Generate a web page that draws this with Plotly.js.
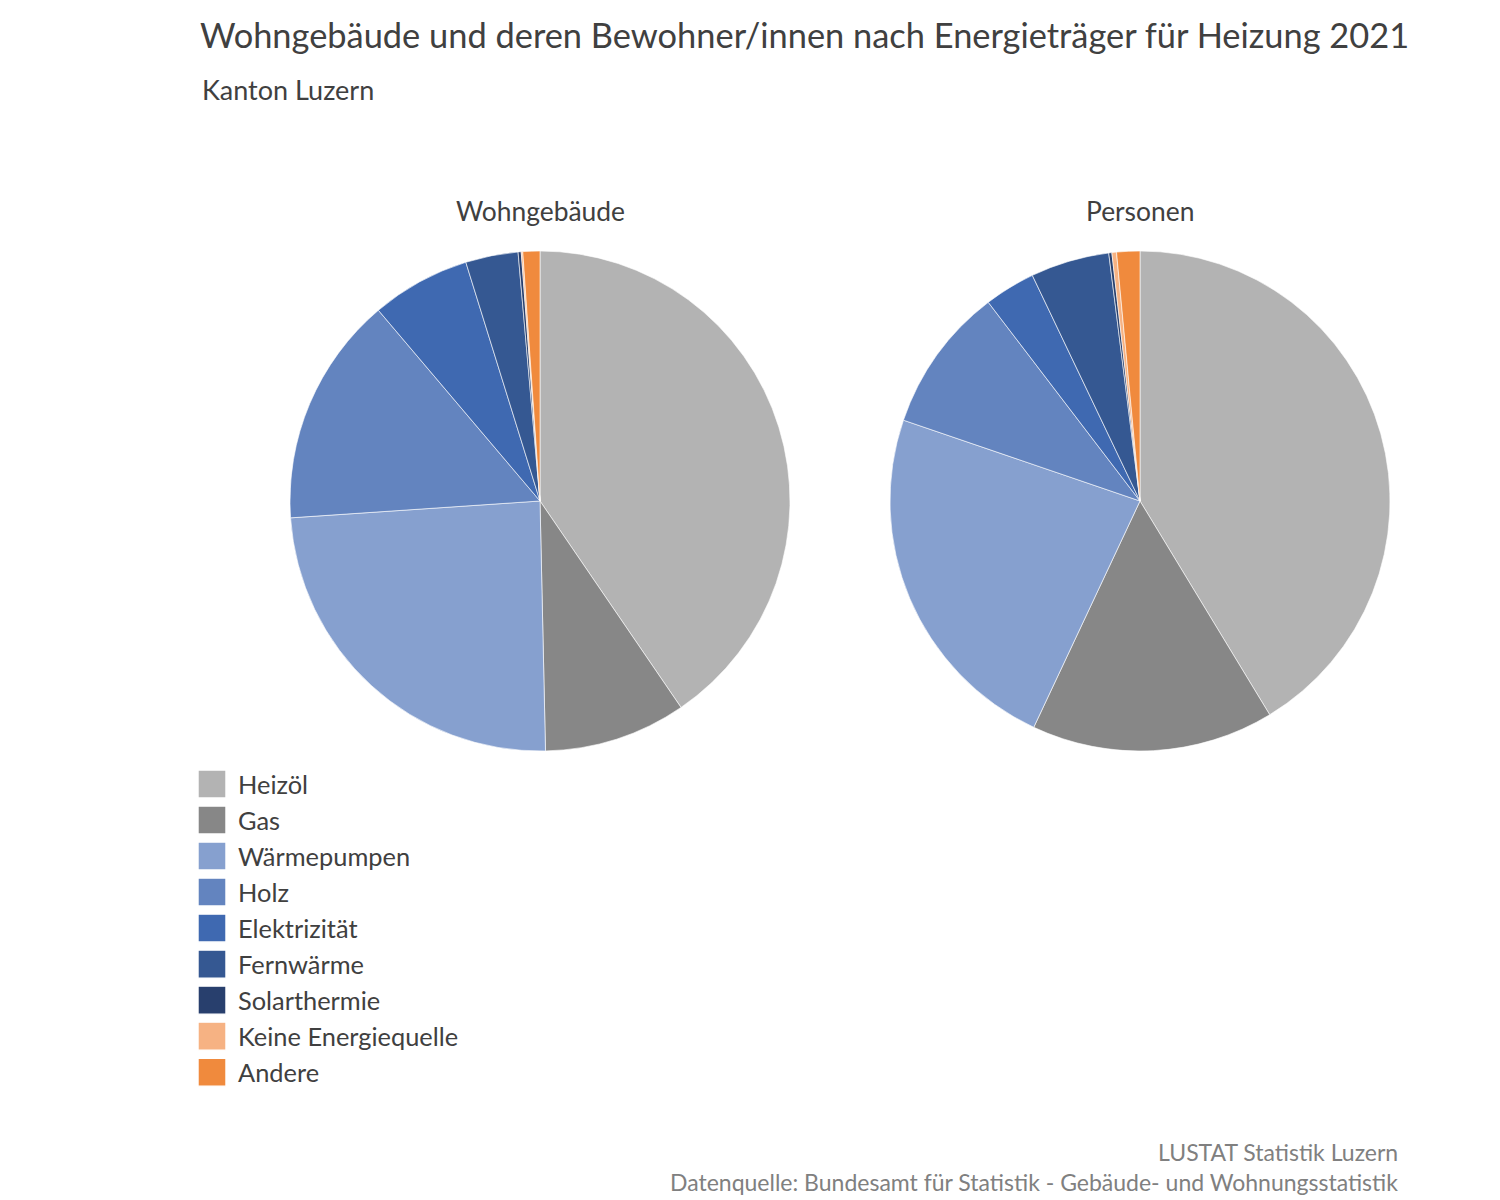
<!DOCTYPE html>
<html>
<head>
<meta charset="utf-8">
<script src="https://cdn.plot.ly/plotly-3.0.1.min.js"></script>
<style>
  body { margin: 0; background: #fff; }
  #chart { width: 1500px; height: 1200px; }
</style>
</head>
<body>
<div id="chart"></div>
<script>
// Anteile in Prozent
const categories = ['Heizöl', 'Gas', 'Wärmepumpen', 'Holz', 'Elektrizität', 'Fernwärme', 'Solarthermie', 'Keine Energiequelle', 'Andere'];
const wohngebaeude = [40.5, 9.2, 24.3, 14.9, 6.4, 3.4, 0.2, 0.1, 1.1];
const personen = [41.4, 15.7, 23.3, 9.4, 3.3, 5.1, 0.2, 0.3, 1.5];
const colors = ['#b3b3b3', '#878787', '#86a0cf', '#6384bf', '#3f69b1', '#355892', '#283f6d', '#f6b283', '#f08a3d'];
const pieTitles = ['Wohngebäude', 'Personen'];

const font = 'Lato, "Open Sans", sans-serif';
const pieY = [0.37417, 0.79083];
const pieX = [[0.19333, 0.52667], [0.59333, 0.92667]];

function pieTrace(values, xdom) {
    return {
        type: 'pie',
        labels: categories,
        values: values,
        sort: false,
        direction: 'clockwise',
        rotation: 0,
        textinfo: 'none',
        hoverinfo: 'label+percent',
        marker: { colors: colors, line: { color: '#ffffff', width: 0.6 } },
        domain: { x: xdom, y: pieY },
    };
}

const data = [
    pieTrace(wohngebaeude, pieX[0]),
    pieTrace(personen, pieX[1]),
];

// Titel über den Kuchen
const pieTitleAnn = pieTitles.map((t, i) => ({
    text: t, xref: 'paper', yref: 'paper',
    x: (pieX[i][0] + pieX[i][1]) / 2, y: pieY[1] + 0.0335,
    xanchor: 'center', yanchor: 'middle',
    showarrow: false, font: { size: 26.4, color: '#404040' },
}));

const layout = {
    width: 1500,
    height: 1200,
    margin: { t: 0, l: 0, r: 0, b: 0 },
    paper_bgcolor: '#ffffff',
    font: { family: font, color: '#404040' },
    title: {
        text: 'Wohngebäude und deren Bewohner/innen nach Energieträger für Heizung 2021',
        font: { size: 34.4, color: '#404040' },
        x: 200 / 1500,
        xanchor: 'left',
        xref: 'paper',
        y: 1 - 24 / 1200,
        yanchor: 'top',
    },
    annotations: pieTitleAnn.concat([
        {
            text: 'Kanton Luzern', xref: 'paper', yref: 'paper',
            x: 200 / 1500, y: 1 - 89 / 1200, xanchor: 'left', yanchor: 'middle',
            showarrow: false, font: { size: 27, color: '#404040' },
        },
        {
            text: 'LUSTAT Statistik Luzern', xref: 'paper', yref: 'paper',
            x: 1400 / 1500, y: 1 - 1152 / 1200, xanchor: 'right', yanchor: 'middle',
            showarrow: false, font: { size: 23, color: '#808080' },
        },
        {
            text: 'Datenquelle: Bundesamt für Statistik - Gebäude- und Wohnungsstatistik', xref: 'paper', yref: 'paper',
            x: 1400 / 1500, y: 1 - 1182 / 1200, xanchor: 'right', yanchor: 'middle',
            showarrow: false, font: { size: 23, color: '#808080' },
        },
    ]),
    showlegend: true,
    legend: {
        x: 198 / 1500,
        y: 1 - 761 / 1200,
        xanchor: 'left',
        yanchor: 'top',
        font: { size: 25.4, color: '#404040' },
        traceorder: 'normal',
    },
};

Plotly.newPlot('chart', data, layout, { displayModeBar: false, staticPlot: true }).then(() => {
    // grössere Legendenfelder wie im Original
    document.querySelectorAll('#chart .legendpoints path').forEach(p => {
        p.setAttribute('transform', 'translate(14,0) scale(2.33)');
    });
});
</script>
</body>
</html>
